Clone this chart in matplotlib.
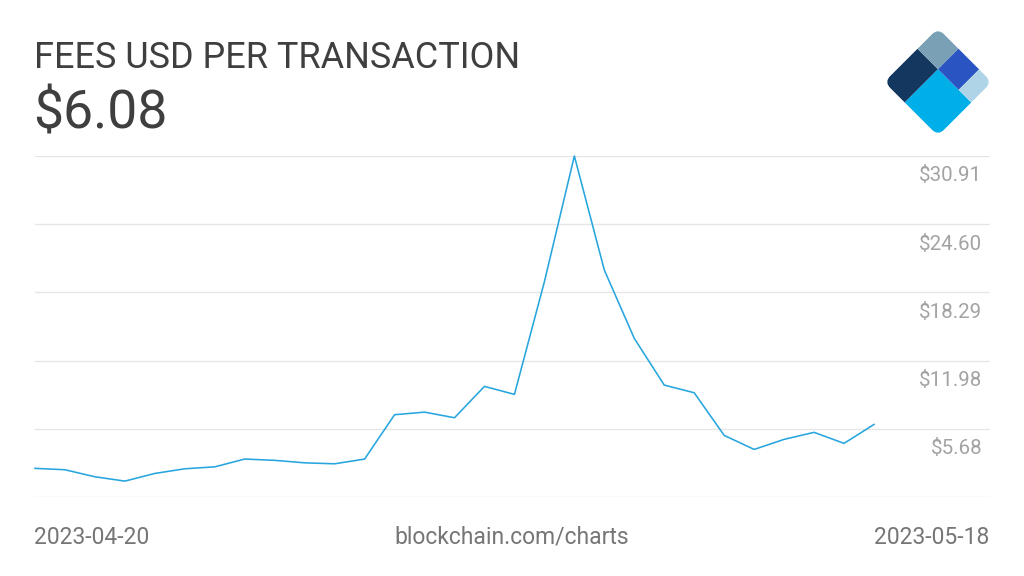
import numpy as np
import matplotlib
matplotlib.use("Agg")
import matplotlib.pyplot as plt
from matplotlib.patches import Rectangle, FancyBboxPatch
from matplotlib.transforms import Affine2D

plt.rcParams['font.family'] = ['Roboto', 'DejaVu Sans']

# daily fees (USD per transaction), 2023-04-20 .. 2023-05-18
fees = [2.02, 1.89, 1.24, 0.84, 1.55, 1.98, 2.16, 2.88, 2.76, 2.53,
        2.44, 2.88, 6.98, 7.22, 6.70, 9.60, 8.86, 19.28, 30.91, 20.36,
        14.04, 9.72, 9.01, 5.07, 3.77, 4.70, 5.35, 4.33, 6.08]
tick_vals = [5.68, 11.98, 18.29, 24.60, 30.91]
tick_labels = ['$5.68', '$11.98', '$18.29', '$24.60', '$30.91']
y_min = -0.63
start_label = '2023-04-20'
end_label = '2023-05-18'

W, H = 1024, 576
fig = plt.figure(figsize=(W / 100, H / 100), dpi=100)
fig.patch.set_facecolor('white')

def px(x, y):
    return x / W, 1 - y / H

# main plot area (pixels: x 35..990, y 156..497)
left, right, top, bottom = 35, 990, 156, 497
ax = fig.add_axes([left / W, 1 - bottom / H, (right - left) / W, (bottom - top) / H])
days = np.arange(len(fees))
ax.plot(days, fees, color='#27a6de', lw=1.15, clip_on=False, zorder=3)
ax.set_xlim(0, (len(fees) - 1) * (right - left) / (874 - left))
ax.set_ylim(y_min, tick_vals[-1])
for v in [y_min] + tick_vals:
    ax.axhline(v, color='#e6e6e6', lw=1.0, zorder=1)
for v, lab in zip(tick_vals, tick_labels):
    ax.annotate(lab, xy=(1, v), xycoords=('axes fraction', 'data'),
                xytext=(-8 * 0.72, -25.5 * 0.72), textcoords='offset points',
                ha='right', va='baseline', fontsize=14.8, color='#a3a3a3')
ax.set_xticks([])
ax.set_yticks([])
for s in ax.spines.values():
    s.set_visible(False)

# header
fig.text(*px(34, 67.5), 'FEES USD PER TRANSACTION', fontsize=25.9,
         color='#3f3f3f', ha='left', va='baseline')
fig.text(*px(33, 128.5), '$6.08', fontsize=38.5,
         color='#3f3f3f', ha='left', va='baseline')

# footer
fig.text(*px(34, 543.5), start_label, fontsize=16.5, color='#767676',
         ha='left', va='baseline')
fig.text(*px(512, 543.5), 'blockchain.com/charts', fontsize=16.5,
         color='#767676', ha='center', va='baseline')
fig.text(*px(989, 543.5), end_label, fontsize=16.5, color='#767676',
         ha='right', va='baseline')

# logo: rounded square turned 45 degrees, golden-ratio split
lx0, ly0, lx1, ly1 = 884, 28, 992, 136
lax = fig.add_axes([lx0 / W, 1 - ly1 / H, (lx1 - lx0) / W, (ly1 - ly0) / H])
lax.set_xlim(-0.7071, 0.7071)
lax.set_ylim(-0.7071, 0.7071)
lax.axis('off')
r2 = 1 / np.sqrt(2)
tr = Affine2D().translate(-0.5, -0.5) + Affine2D(np.array([[r2, r2, 0], [r2, -r2, 0], [0, 0, 1]])) + lax.transData
g = 0.618
h = 0.382
clip = FancyBboxPatch((0, 0), 1, 1, boxstyle='round,pad=0,rounding_size=0.12',
                      transform=tr, facecolor='none', edgecolor='none')
lax.add_patch(clip)
pieces = [
    ((0, 0), g, h, '#14375f'),           # navy
    ((0, h), g, 1 - h, '#00aee8'),       # cyan
    ((g, 0), 1 - g, h, '#7aa0b6'),       # grey blue
    ((g, h), 1 - g, 0.764 - h, '#2a54c2'),  # royal blue
    ((g, 0.764), 1 - g, 1 - 0.764, '#b0d4e7'),  # light blue
]
for xy, w, hh, c in pieces:
    p = Rectangle(xy, w, hh, facecolor=c, edgecolor='none', transform=tr)
    lax.add_patch(p)
    p.set_clip_path(clip)

fig.savefig('out.png', dpi=100, facecolor='white')
